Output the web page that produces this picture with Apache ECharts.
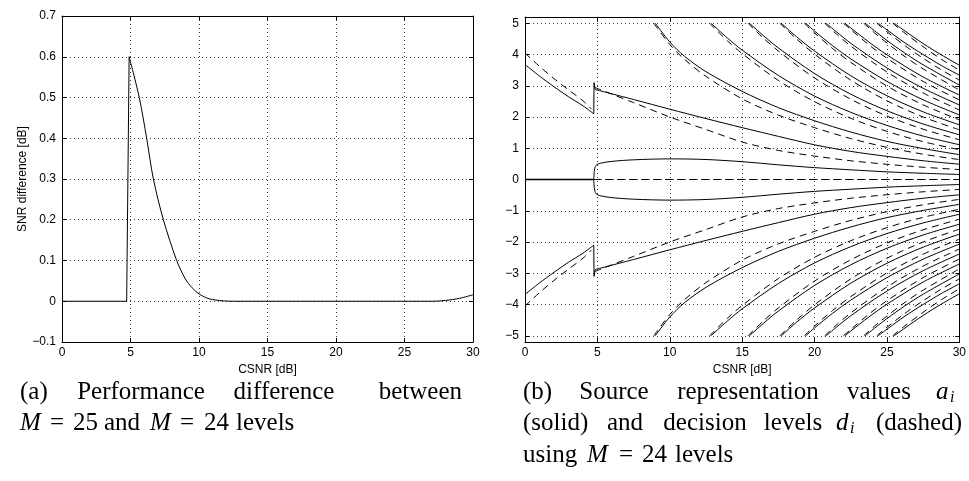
<!DOCTYPE html>
<html>
<head>
<meta charset="utf-8">
<script src="https://cdn.jsdelivr.net/npm/echarts@6/dist/echarts.min.js"></script>
<style>
  html, body { margin: 0; padding: 0; background: #fff; }
  #chart { width: 969px; height: 481px; }
</style>
</head>
<body>
<div id="chart"></div>
<script>
// ---------- Panel (a): SNR difference [dB] between M = 25 and M = 24 levels ----------
const diffRiseX = [0, 4.72, 4.9];
const diffRiseY = [0, 0, 0.6];
const diffTailX = [4.9, 5.64, 6.18, 6.67, 7.4, 8.37, 9.0, 9.5, 10, 10.5, 11, 12, 13, 20, 27, 28, 29, 30];
const diffTailY = [0.6, 0.5, 0.4, 0.3, 0.2, 0.1, 0.055, 0.033, 0.018, 0.009, 0.004, 0.0005, 0, 0, 0, 0.002, 0.007, 0.016];

// ---------- Panel (b): representation values a_i and decision levels d_i (upper half) ----------
// Low-CSNR regime (three-level quantizer)
const zeroLevel     = [[0, 0], [4.75, 0]];
const lowLevel      = [[0, 3.68], [1, 3.31], [2, 2.97], [3, 2.65], [4, 2.36], [4.75, 2.1]];
const levelJump     = [[4.75, 2.1], [4.77, 3.1], [4.85, 2.88]];
const lowDecision   = [[0, 4.05], [1, 3.62], [2, 3.23], [3, 2.87], [4, 2.52], [4.6, 2.25]];
const zeroDecision  = [[4.75, 0], [30, 0]];

// Representation values a_1 .. a_12
const a1  = [[4.75, 0], [4.8, 0.3], [4.9, 0.45], [5.2, 0.52], [6, 0.58], [7.5, 0.63], [10, 0.66], [12.5, 0.64], [15, 0.57], [17.5, 0.47], [20, 0.38], [22.5, 0.31], [25, 0.245], [27.5, 0.2], [30, 0.16]];
const a2  = [[4.85, 2.88], [7.5, 2.56], [10, 2.25], [12.5, 1.95], [15, 1.66], [17.5, 1.38], [20, 1.11], [22.5, 0.9], [25, 0.74], [27.5, 0.6], [30, 0.49]];
const a3  = [[9.0, 5.0], [10, 4.4], [11, 3.95], [12.5, 3.45], [15, 2.82], [17.5, 2.3], [20, 1.88], [22.5, 1.52], [25, 1.22], [27.5, 0.99], [30, 0.795]];
const a4  = [[12.85, 5.0], [14, 4.52], [15, 4.14], [17.5, 3.33], [20, 2.67], [22.5, 2.15], [25, 1.73], [27.5, 1.39], [30, 1.113]];
const a5  = [[15.5, 5.0], [16.5, 4.59], [17.5, 4.21], [20, 3.39], [22.5, 2.73], [25, 2.2], [27.5, 1.776], [30, 1.431]];
const a6  = [[17.7, 5.0], [18.75, 4.57], [20, 4.11], [22.5, 3.32], [25, 2.68], [27.5, 2.165], [30, 1.749]];
const a7  = [[19.4, 5.0], [20, 4.75], [21.25, 4.28], [22.5, 3.86], [25, 3.14], [27.5, 2.55], [30, 2.067]];
const a8  = [[20.8, 5.0], [21.5, 4.73], [22.5, 4.36], [25, 3.57], [27.5, 2.92], [30, 2.385]];
const a9  = [[22.1, 5.0], [22.5, 4.85], [23.75, 4.4], [25, 3.99], [27.5, 3.28], [30, 2.703]];
const a10 = [[23.5, 5.0], [24.25, 4.72], [25, 4.45], [26.25, 4.04], [27.5, 3.67], [30, 3.021]];
const a11 = [[24.4, 5.0], [25, 4.79], [26.25, 4.37], [27.5, 4.0], [28.75, 3.65], [30, 3.339]];
const a12 = [[25.5, 5.0], [26.25, 4.75], [27.5, 4.35], [28.75, 3.99], [30, 3.657]];

// Decision levels d_1 .. d_11
const d1  = [[4.8, 2.95], [6, 2.73], [7.5, 2.46], [10, 2.0], [12.5, 1.6], [15, 1.2], [17.5, 0.93], [20, 0.75], [22.5, 0.6], [25, 0.487], [27.5, 0.393], [30, 0.318]];
const d2  = [[8.9, 5.0], [10, 4.32], [11, 3.85], [12.5, 3.3], [15, 2.58], [17.5, 2.06], [20, 1.66], [22.5, 1.31], [25, 1.03], [27.5, 0.81], [30, 0.636]];
const d3  = [[12.75, 5.0], [14, 4.43], [15, 4.03], [17.5, 3.17], [20, 2.49], [22.5, 1.96], [25, 1.54], [27.5, 1.21], [30, 0.954]];
const d4  = [[15.4, 5.0], [16.5, 4.51], [17.5, 4.11], [20, 3.25], [22.5, 2.57], [25, 2.03], [27.5, 1.61], [30, 1.272]];
const d5  = [[17.6, 5.0], [18.75, 4.5], [20, 4.01], [22.5, 3.18], [25, 2.52], [27.5, 2.0], [30, 1.59]];
const d6  = [[19.3, 5.0], [20, 4.69], [21.25, 4.19], [22.5, 3.75], [25, 2.99], [27.5, 2.39], [30, 1.908]];
const d7  = [[20.7, 5.0], [21.5, 4.66], [22.5, 4.27], [25, 3.44], [27.5, 2.77], [30, 2.226]];
const d8  = [[22.0, 5.0], [22.5, 4.8], [23.75, 4.31], [25, 3.88], [27.5, 3.14], [30, 2.544]];
const d9  = [[23.4, 5.0], [24.25, 4.65], [25, 4.37], [26.25, 3.93], [27.5, 3.54], [30, 2.862]];
const d10 = [[24.3, 5.0], [25, 4.73], [26.25, 4.28], [27.5, 3.88], [28.75, 3.51], [30, 3.18]];
const d11 = [[25.4, 5.0], [26.25, 4.68], [27.5, 4.25], [28.75, 3.85], [30, 3.498]];

const levelCurves = [a1, a2, a3, a4, a5, a6, a7, a8, a9, a10, a11, a12];
const decisionCurves = [d1, d2, d3, d4, d5, d6, d7, d8, d9, d10, d11];

// ---------- styling ----------
const SANS = '"Liberation Sans", Arial, Helvetica, sans-serif';
const SERIF = '"Liberation Serif", "Times New Roman", serif';
const INK = '#000';
const DASH = [7, 5];
const SMOOTH = 0.3;

const toMinus = v => String(v).replace('-', '\u2212');
const axisLineStyle = { show: true, onZero: false, lineStyle: { color: INK, width: 1 } };
const tickInside = { show: true, inside: true, length: 4, lineStyle: { color: INK, width: 1 } };
const dottedGrid = { show: true, lineStyle: { color: '#3a3a3a', width: 1, type: [1, 3] } };
const tickText = { color: INK, fontSize: 12, fontFamily: SANS };

function xAxes(gridIndex) {
  const base = { gridIndex, type: 'value', min: 0, max: 30, interval: 5, axisLine: axisLineStyle, axisTick: tickInside };
  return [
    Object.assign({}, base, {
      position: 'bottom', splitLine: dottedGrid,
      axisLabel: Object.assign({ margin: 5 }, tickText),
      name: 'CSNR [dB]', nameLocation: 'middle', nameGap: 17,
      nameTextStyle: { color: INK, fontSize: 12, fontFamily: SANS }
    }),
    Object.assign({}, base, { position: 'top', splitLine: { show: false }, axisLabel: { show: false } })
  ];
}

function yAxes(gridIndex, range, extraLeft) {
  const base = Object.assign({ gridIndex, type: 'value', axisLine: axisLineStyle, axisTick: tickInside }, range);
  return [
    Object.assign({}, base, {
      position: 'left', splitLine: dottedGrid,
      axisLabel: Object.assign({ margin: 6, showMinLabel: range.labelEnds, showMaxLabel: range.labelEnds,
        formatter: v => toMinus(+(+v).toFixed(1)) }, tickText)
    }, extraLeft || {}),
    Object.assign({}, base, { position: 'right', splitLine: { show: false }, axisLabel: { show: false } })
  ];
}

const zip = (xs, ys) => xs.map((x, i) => [x, ys[i]]);
const mirror = pts => pts.map(p => [p[0], -p[1]]);

function line(data, opts) {
  return Object.assign({
    type: 'line', data, showSymbol: false, symbol: 'none', silent: true, animation: false,
    xAxisIndex: 2, yAxisIndex: 2, clip: true,
    lineStyle: { color: INK, width: 1 }
  }, opts);
}

const series = [];
// panel (a)
series.push(line(zip(diffRiseX, diffRiseY), { xAxisIndex: 0, yAxisIndex: 0 }));
series.push(line(zip(diffTailX, diffTailY), { xAxisIndex: 0, yAxisIndex: 0, smooth: SMOOTH }));

// panel (b): dashed decision levels
const dashed = { lineStyle: { color: INK, width: 1, type: DASH } };
series.push(line(zeroDecision, dashed));
[lowDecision].concat(decisionCurves).forEach(c => {
  series.push(line(c, Object.assign({ smooth: SMOOTH }, dashed)));
  series.push(line(mirror(c), Object.assign({ smooth: SMOOTH }, dashed)));
});
// panel (b): solid representation values
series.push(line(zeroLevel, { lineStyle: { color: INK, width: 1.6 } }));
series.push(line(levelJump));
series.push(line(mirror(levelJump)));
[lowLevel].concat(levelCurves).forEach(c => {
  series.push(line(c, { smooth: SMOOTH }));
  series.push(line(mirror(c), { smooth: SMOOTH }));
});

// ---------- captions ----------
const CAP = 25;
function word(text, x, y, align, italic, size) {
  return {
    type: 'text', x, y, silent: true,
    style: {
      text, fill: INK, fontFamily: SERIF, fontSize: size || CAP,
      fontStyle: italic ? 'italic' : 'normal',
      align: align || 'left', verticalAlign: 'middle'
    }
  };
}
const L1 = 392, L2 = 423, L3 = 455;
const captions = [
  // (a)
  word('(a)', 20, L1), word('Performance', 141, L1, 'center'), word('difference', 284, L1, 'center'), word('between', 462, L1, 'right'),
  word('M', 20, L2, 'left', true), word('=', 50, L2), word('25', 73, L2), word('and', 104, L2),
  word('M', 150, L2, 'left', true), word('=', 180, L2), word('24', 204, L2), word('levels', 236, L2),
  // (b)
  word('(b)', 523, L1), word('Source', 614, L1, 'center'), word('representation', 748, L1, 'center'), word('values', 879, L1, 'center'),
  word('a', 936, L1, 'left', true), word('i', 950, L1 + 6, 'left', true, 16),
  word('(solid)', 523, L2), word('and', 625, L2, 'center'), word('decision', 705, L2, 'center'), word('levels', 793, L2, 'center'),
  word('d', 836, L2, 'left', true), word('i', 850, L2 + 6, 'left', true, 16), word('(dashed)', 962, L2, 'right'),
  word('using', 523, L3), word('M', 587, L3, 'left', true), word('=', 619, L3), word('24', 642, L3), word('levels', 675, L3)
];

const chart = echarts.init(document.getElementById('chart'), null, { renderer: 'canvas' });
chart.setOption({
  backgroundColor: '#fff',
  animation: false,
  grid: [
    { left: 62, top: 16, width: 411, height: 326 },
    { left: 525, top: 17, width: 436, height: 325 }
  ],
  xAxis: xAxes(0).concat(xAxes(1)),
  yAxis: yAxes(0, { min: -0.1, max: 0.7, interval: 0.1, labelEnds: true }, {
    name: 'SNR difference [dB]', nameLocation: 'middle', nameGap: 33, nameRotate: 90,
    nameTextStyle: { color: INK, fontSize: 12, fontFamily: SANS }
  }).concat(yAxes(1, { min: -5.2, max: 5.2, splitNumber: 10, labelEnds: false })),
  series,
  graphic: captions
});
</script>
</body>
</html>
